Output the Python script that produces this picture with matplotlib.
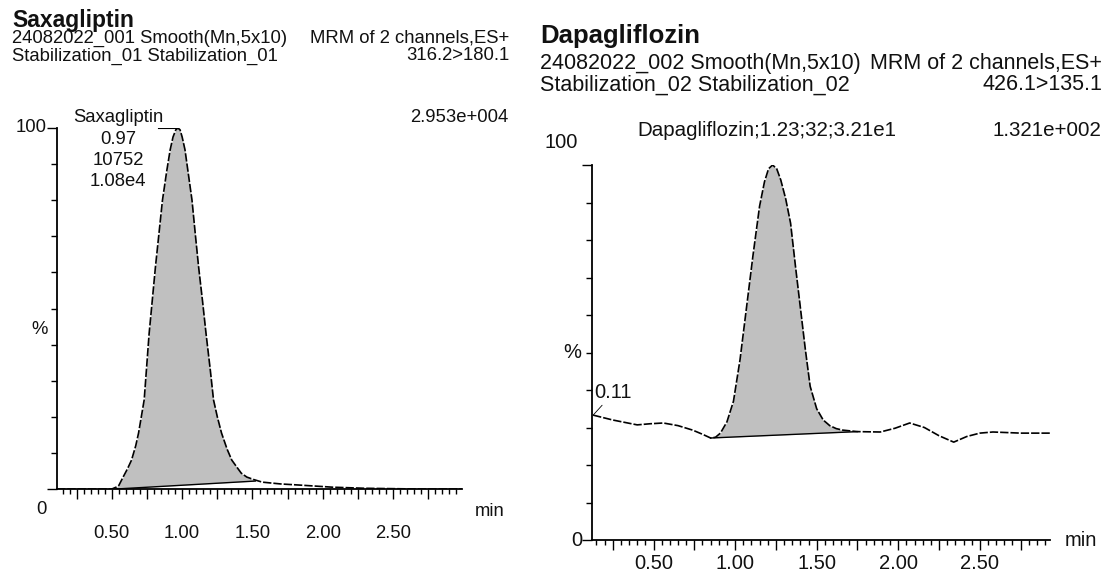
import matplotlib
matplotlib.use("Agg")
import matplotlib.pyplot as plt
from matplotlib.ticker import MultipleLocator
import numpy as np

plt.rcParams['font.family'] = ['Liberation Sans', 'DejaVu Sans']

W, H = 1106, 572

# ---------------- data: Saxagliptin (left) ----------------
saxa_time = [0.11, 0.30, 0.50, 0.53, 0.55, 0.58, 0.61, 0.64, 0.67, 0.69, 0.73, 0.765,
             0.81, 0.86, 0.89, 0.915, 0.935, 0.955, 0.97, 0.985, 1.00, 1.02, 1.045,
             1.07, 1.095, 1.117, 1.145, 1.17, 1.20, 1.223, 1.25, 1.28, 1.32, 1.353,
             1.39, 1.42, 1.46, 1.51, 1.57, 1.70, 1.83, 2.07, 2.30, 2.67, 2.99]
saxa_pct = [0, 0, 0, 0.5, 1, 3.3, 5.5, 8, 12, 15.5, 24.7, 43,
            61.5, 80, 88, 94, 97.5, 99.5, 100, 99.5, 97.5, 94, 87,
            80, 70, 61.5, 52, 43, 33, 24.7, 20, 15.5, 11, 8,
            6, 4.4, 3.3, 2.6, 1.9, 1.4, 1.1, 0.5, 0.2, 0, 0]
saxa_base_t = [0.53, 1.52]
saxa_base_y = [0.0, 2.2]

# ---------------- data: Dapagliflozin (right) ----------------
dapa_time = [0.13, 0.25, 0.40, 0.48, 0.56, 0.65, 0.74, 0.80, 0.85, 0.88, 0.91, 0.95,
             0.99, 1.03, 1.07, 1.11, 1.15, 1.18, 1.205, 1.23, 1.255, 1.28, 1.31,
             1.34, 1.37, 1.40, 1.43, 1.46, 1.50, 1.54, 1.58, 1.62, 1.66, 1.75, 1.89,
             1.98, 2.07, 2.16, 2.25, 2.34, 2.42, 2.50, 2.58, 2.75, 2.93]
dapa_pct = [33.3, 32.0, 30.7, 31.0, 31.2, 30.5, 29.3, 28.2, 27.2, 27.4, 28.5, 31.5,
            37, 48, 62, 76, 89, 95.5, 99, 100, 99, 96, 91,
            84.5, 73, 62, 51, 41, 35, 32, 30.5, 29.7, 29.3, 28.9, 28.8,
            29.8, 31.2, 30.0, 27.8, 26.1, 27.6, 28.5, 28.8, 28.5, 28.5]
dapa_base_t = [0.85, 1.75]
dapa_base_y = [27.2, 28.9]

x_tick_values = [0.50, 1.00, 1.50, 2.00, 2.50]
x_tick_labels = ["0.50", "1.00", "1.50", "2.00", "2.50"]

fig = plt.figure(figsize=(W / 100, H / 100), dpi=100)
fig.patch.set_facecolor('white')


def fx(x):
    return x / W


def fy(y):
    return 1 - y / H


def axes_px(x0, y0, x1, y1):
    return fig.add_axes([fx(x0), fy(y1), fx(x1) - fx(x0), (y1 - y0) / H])


def txt(x, y, s, **kw):
    kw.setdefault('fontsize', 13.3)
    kw.setdefault('va', 'center')
    kw.setdefault('color', '#111111')
    fig.text(fx(x), fy(y), s, **kw)


LINE = dict(color='black', lw=1.2, ls=(0, (5, 1.2)))
FILL = '#c0c0c0'


def style_axes(ax, xlim, label_pad, labelsize):
    ax.set_xlim(*xlim)
    ax.set_ylim(0, 100)
    for s in ['top', 'right']:
        ax.spines[s].set_visible(False)
    for s in ['left', 'bottom']:
        ax.spines[s].set_linewidth(1.3)
        ax.spines[s].set_color('black')
    ax.patch.set_alpha(0)
    quarter = [v / 4 for v in range(1, 12) if xlim[0] < v / 4 < xlim[1]]
    lab = []
    for q in quarter:
        match = [l for v, l in zip(x_tick_values, x_tick_labels) if abs(v - q) < 1e-9]
        lab.append(match[0] if match else "")
    ax.set_xticks(quarter, lab)
    ax.xaxis.set_minor_locator(MultipleLocator(0.05))
    ax.tick_params(axis='x', which='major', length=7, width=1, pad=label_pad,
                   labelsize=labelsize, labelcolor='#111111', direction='out')
    ax.tick_params(axis='x', which='minor', length=3.5, width=1, direction='out')
    ax.set_yticks([0, 100], ["", ""])
    ax.yaxis.set_minor_locator(MultipleLocator(10))
    ax.tick_params(axis='y', which='major', length=7, width=1, direction='out')
    ax.tick_params(axis='y', which='minor', length=4, width=1, direction='out')


# ---------------- left panel ----------------
axL = axes_px(57, 128, 462, 489)
style_axes(axL, (0.11, 2.99), 19, 13.3)
tL = np.array(saxa_time)
yL = np.array(saxa_pct)
mL = (tL >= saxa_base_t[0]) & (tL <= saxa_base_t[1])
baseL = np.interp(tL[mL], saxa_base_t, saxa_base_y)
axL.fill_between(tL[mL], baseL, yL[mL], color=FILL, lw=0)
axL.plot(saxa_base_t, saxa_base_y, color='black', lw=1.0)
axL.plot(saxa_time, saxa_pct, **LINE)
axL.plot([0.83, 0.97], [100, 100], color='black', lw=0.8)

txt(12, 20, "Saxagliptin", fontsize=16.5, fontweight='bold')
txt(12, 38, "24082022_001 Smooth(Mn,5x10)")
txt(509, 38, "MRM of 2 channels,ES+", ha='right')
txt(12, 56, "Stabilization_01 Stabilization_01")
txt(509, 56, "316.2>180.1", ha='right')
txt(508, 117, "2.953e+004", ha='right')
txt(118, 117, "Saxagliptin", ha='center')
txt(118, 139, "0.97", ha='center')
txt(118, 160, "10752", ha='center')
txt(118, 181, "1.08e4", ha='center')
txt(47, 128, "100", ha='right')
txt(40, 329, "%", ha='center')
txt(41, 510, "0", ha='center')
txt(490, 511, "min", ha='center')

# ---------------- right panel ----------------
axR = axes_px(592, 165, 1050, 540)
style_axes(axR, (0.123, 2.93), 3, 14.5)
tR = np.array(dapa_time)
yR = np.array(dapa_pct)
mR = (tR >= dapa_base_t[0]) & (tR <= dapa_base_t[1])
baseR = np.interp(tR[mR], dapa_base_t, dapa_base_y)
axR.fill_between(tR[mR], baseR, yR[mR], color=FILL, lw=0)
axR.plot(dapa_base_t, dapa_base_y, color='black', lw=1.0)
axR.plot(dapa_time, dapa_pct, **LINE)
axR.annotate("0.11", xy=(dapa_time[0], dapa_pct[0]), xytext=(1, 12),
             textcoords='offset points', fontsize=14.5, color='#111111',
             arrowprops=dict(arrowstyle='-', lw=0.6, color='black',
                             shrinkA=0, shrinkB=0))

RS = 15.5
txt(540, 36, "Dapagliflozin", fontsize=18.5, fontweight='bold')
txt(540, 63, "24082022_002 Smooth(Mn,5x10)", fontsize=RS)
txt(1102, 63, "MRM of 2 channels,ES+", ha='right', fontsize=RS)
txt(540, 85, "Stabilization_02 Stabilization_02", fontsize=RS)
txt(1102, 85, "426.1>135.1", ha='right', fontsize=RS)
txt(637, 130, "Dapagliflozin;1.23;32;3.21e1", ha='left', fontsize=14.8)
txt(1101, 130, "1.321e+002", ha='right', fontsize=14.8)
txt(578, 143, "100", ha='right', fontsize=14.5)
txt(572, 352, "%", ha='center', fontsize=14.5)
txt(582, 540, "0", ha='right', fontsize=14.5)
txt(1081, 540, "min", ha='center', fontsize=14.5)

fig.savefig("out.png", dpi=100, facecolor='white')
